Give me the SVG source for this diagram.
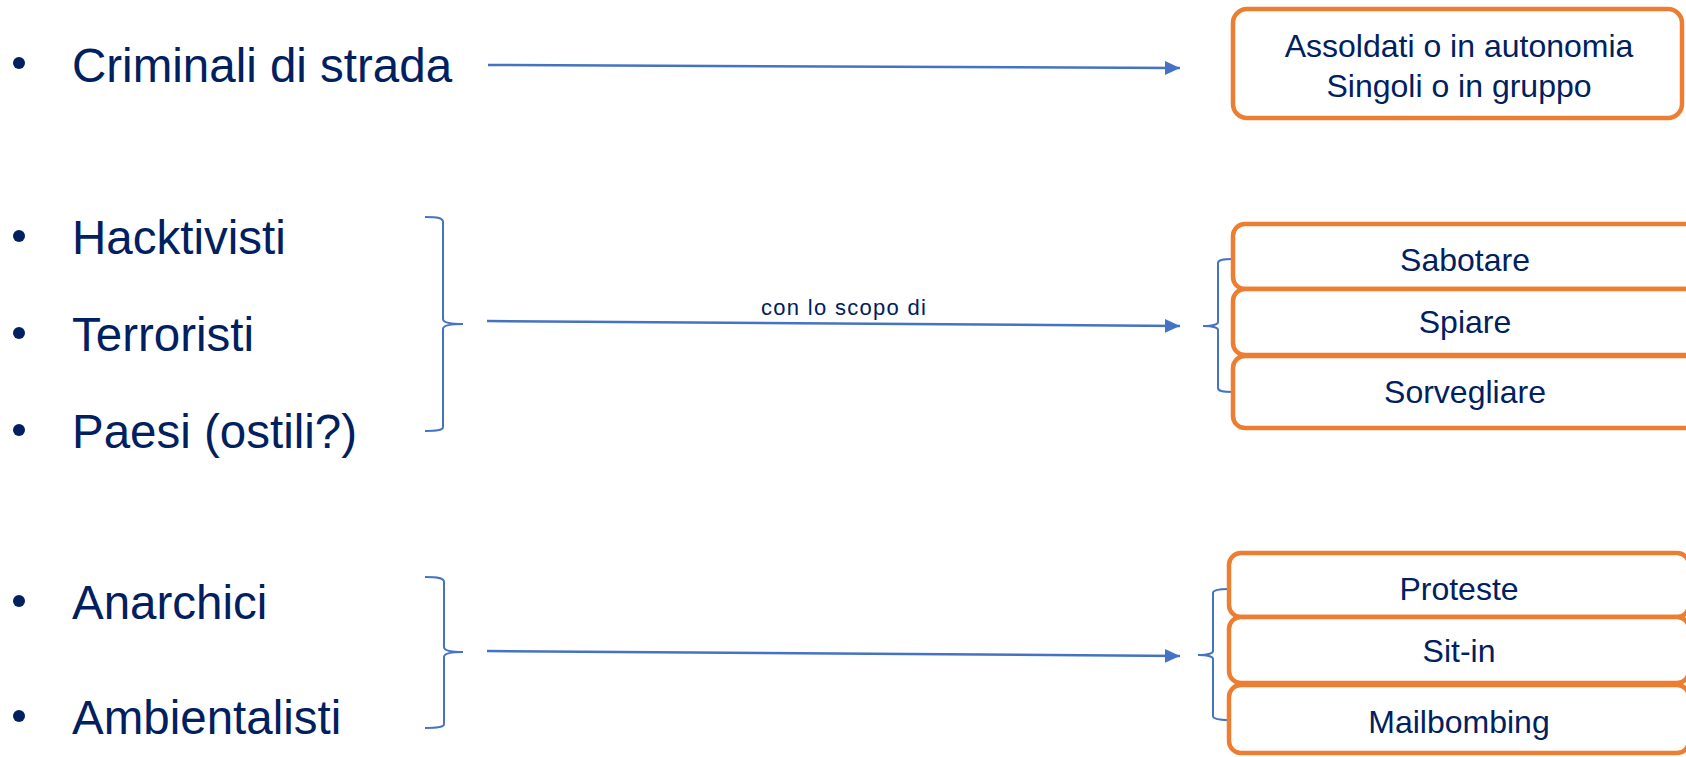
<svg xmlns="http://www.w3.org/2000/svg" width="1686" height="757" viewBox="0 0 1686 757">
<style>
.lbl{font-family:"Liberation Sans",Arial,sans-serif;font-size:47.5px;fill:#002060}
.box{fill:#ffffff;stroke:#ED7D31;stroke-width:4.5}
.bt{font-family:"Liberation Sans",Arial,sans-serif;font-size:32px;fill:#002060;text-anchor:middle}
.small{font-family:"Liberation Sans",Arial,sans-serif;font-size:22px;letter-spacing:1.3px;fill:#002060}
.brace{fill:none;stroke:#4472C4;stroke-width:2}
.arrow{fill:none;stroke:#4472C4;stroke-width:2.5}
.dot{fill:#002060}
</style>
<defs>
<marker id="ah" markerUnits="userSpaceOnUse" markerWidth="16" markerHeight="16" viewBox="0 0 16 16" refX="15" refY="8" orient="auto">
<path d="M0,1 L15,8 L0,15 Z" fill="#4472C4"/>
</marker>
</defs>
<rect width="1686" height="757" fill="#ffffff"/>
<g id="left-items">
<g id="n-criminali"><circle class="dot" cx="19" cy="63" r="6"/><text class="lbl" x="72" y="82">Criminali di strada</text></g>
<g id="n-hacktivisti"><circle class="dot" cx="19" cy="236" r="6"/><text class="lbl" x="72" y="254">Hacktivisti</text></g>
<g id="n-terroristi"><circle class="dot" cx="19" cy="333" r="6"/><text class="lbl" x="72" y="351">Terroristi</text></g>
<g id="n-paesi"><circle class="dot" cx="19" cy="430" r="6"/><text class="lbl" x="72" y="448">Paesi (ostili?)</text></g>
<g id="n-anarchici"><circle class="dot" cx="19" cy="601" r="6"/><text class="lbl" x="72" y="619">Anarchici</text></g>
<g id="n-ambientalisti"><circle class="dot" cx="19" cy="716" r="6"/><text class="lbl" x="72" y="734">Ambientalisti</text></g>
</g>
<g id="connectors">
<path class="brace" d="M425,217 C438,217 443,218 443,222 L443,319 C443,322 447,324 463,324 C447,324 443,326 443,329 L443,427 C443,430 438,431 425,431"/>
<path class="brace" d="M425,577 C438,577 444,578 444,582 L444,647 C444,650 448,652 463,652 C448,652 444,654 444,657 L444,724 C444,727 438,728 425,728"/>
<path class="brace" d="M1233,259 C1222,259 1218,260 1218,263 L1218,322 C1218,324 1214,326 1203,326 C1214,326 1218,328 1218,330 L1218,388 C1218,391 1222,392 1233,392"/>
<path class="brace" d="M1229,589 C1218,589 1213,590 1213,593 L1213,651 C1213,653 1209,655 1198,655 C1209,655 1213,657 1213,659 L1213,716 C1213,719 1218,720 1229,720"/>
<line class="arrow" x1="488" y1="65" x2="1180" y2="68" marker-end="url(#ah)"/>
<line class="arrow" x1="487" y1="321" x2="1180" y2="326" marker-end="url(#ah)"/>
<line class="arrow" x1="487" y1="651" x2="1180" y2="656" marker-end="url(#ah)"/>
<text class="small" x="761" y="315">con lo scopo di</text>
</g>
<g id="n-assoldati"><rect class="box" x="1233" y="9" width="449" height="109" rx="14"/><text class="bt" x="1459" y="57">Assoldati o in autonomia</text><text class="bt" x="1459" y="97">Singoli o in gruppo</text></g>
<g id="n-sabotare"><rect class="box" x="1233" y="224" width="464" height="65" rx="12"/><text class="bt" x="1465" y="271">Sabotare</text></g>
<g id="n-spiare"><rect class="box" x="1233" y="289" width="464" height="66" rx="12"/><text class="bt" x="1465" y="333">Spiare</text></g>
<g id="n-sorvegliare"><rect class="box" x="1233" y="356" width="464" height="72" rx="12"/><text class="bt" x="1465" y="403">Sorvegliare</text></g>
<g id="n-proteste"><rect class="box" x="1229" y="553" width="460" height="64" rx="12"/><text class="bt" x="1459" y="600">Proteste</text></g>
<g id="n-sitin"><rect class="box" x="1229" y="617" width="460" height="66" rx="12"/><text class="bt" x="1459" y="662">Sit-in</text></g>
<g id="n-mailbombing"><rect class="box" x="1229" y="685" width="460" height="68" rx="12"/><text class="bt" x="1459" y="733">Mailbombing</text></g>
</svg>
